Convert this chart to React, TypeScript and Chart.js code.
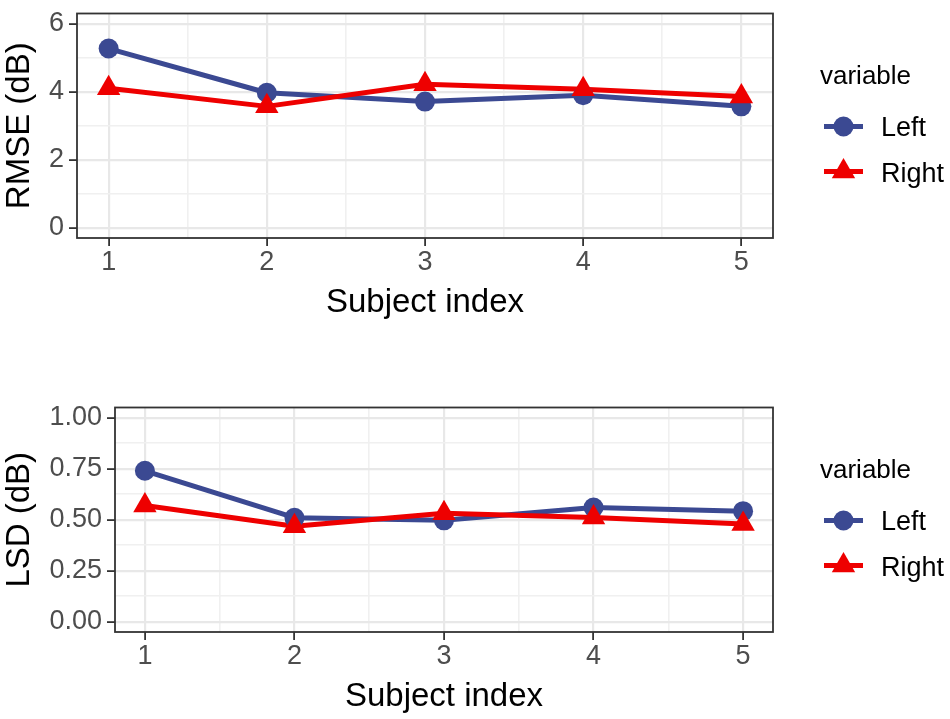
import React, { useEffect, useRef } from 'react';
import { Chart, registerables } from 'chart.js';

Chart.register(...registerables);

// ---------- data ----------
const subjects = [1, 2, 3, 4, 5];
const seriesNames = ['Left', 'Right'];
const rmseLeft = [5.27, 3.97, 3.71, 3.9, 3.57];
const rmseRight = [4.1, 3.57, 4.22, 4.07, 3.86];
const lsdLeft = [0.74, 0.51, 0.497, 0.56, 0.542];
const lsdRight = [0.57, 0.468, 0.532, 0.511, 0.479];
const rmseTicks = [0, 2, 4, 6];
const lsdTicks = [0, 0.25, 0.5, 0.75, 1];
const xTitle = 'Subject index';
const rmseTitle = 'RMSE (dB)';
const lsdTitle = 'LSD (dB)';
const legendTitle = 'variable';

// ---------- style ----------
const BLUE = '#3B4992';
const RED = '#EE0000';
const FONT = "'Liberation Sans', Arial, Helvetica, sans-serif";
const GRID_MAJOR = '#E8E8E8';
const GRID_MINOR = '#F0F0F0';
const DARK = '#333333';
const TICK_TEXT = '#4D4D4D';
const LINE_W = 5;
const CIRCLE_R = 10;
const TRI_R = 13.5;

const midpoints = (arr: number[]) => arr.slice(1).map((v, i) => (v + arr[i]) / 2);
const near = (arr: number[], v: number) => arr.some((m) => Math.abs(m - v) < 1e-9);

function drawTriangle(ctx: CanvasRenderingContext2D, x: number, y: number, r: number) {
  ctx.beginPath();
  for (let k = 0; k < 3; k++) {
    const a = (k * 2 * Math.PI) / 3;
    const px = x + Math.sin(a) * r;
    const py = y - Math.cos(a) * r;
    if (k === 0) ctx.moveTo(px, py);
    else ctx.lineTo(px, py);
  }
  ctx.closePath();
  ctx.fill();
}

const borderPlugin = {
  id: 'panelBorder',
  afterDatasetsDraw(chart: any) {
    const { ctx, chartArea: a } = chart;
    ctx.save();
    ctx.strokeStyle = DARK;
    ctx.lineWidth = 1.8;
    ctx.strokeRect(a.left, a.top, a.right - a.left, a.bottom - a.top);
    ctx.restore();
  },
};

const legendPlugin = {
  id: 'ggLegend',
  afterDraw(chart: any) {
    const { ctx, chartArea: a } = chart;
    const t = a.top;
    ctx.save();
    ctx.textAlign = 'left';
    ctx.textBaseline = 'alphabetic';
    ctx.fillStyle = '#000';
    ctx.font = `26px ${FONT}`;
    ctx.fillText(legendTitle, a.right + 47, t + 70);
    const k0 = a.right + 51;
    const k1 = a.right + 90;
    const cx = (k0 + k1) / 2;
    const rows = [
      { name: seriesNames[0], color: BLUE, y: t + 113, base: t + 122, shape: 'circle' },
      { name: seriesNames[1], color: RED, y: t + 158, base: t + 168, shape: 'triangle' },
    ];
    rows.forEach((r) => {
      ctx.strokeStyle = r.color;
      ctx.lineWidth = LINE_W;
      ctx.beginPath();
      ctx.moveTo(k0, r.y);
      ctx.lineTo(k1, r.y);
      ctx.stroke();
      ctx.fillStyle = r.color;
      if (r.shape === 'circle') {
        ctx.beginPath();
        ctx.arc(cx, r.y, CIRCLE_R, 0, Math.PI * 2);
        ctx.fill();
      } else {
        drawTriangle(ctx, cx, r.y, TRI_R);
      }
      ctx.fillStyle = '#000';
      ctx.font = `27px ${FONT}`;
      ctx.fillText(r.name, a.right + 108, r.base);
    });
    ctx.restore();
  },
};

type PanelProps = {
  top: number;
  left: number[];
  right: number[];
  yTicks: number[];
  yMin: number;
  yMax: number;
  decimals: number;
  axisWidth: number;
  yTitle: string;
};

function Panel({ top, left, right, yTicks, yMin, yMax, decimals, axisWidth, yTitle }: PanelProps) {
  const ref = useRef<HTMLCanvasElement>(null);
  useEffect(() => {
    if (!ref.current) return;
    const xMinor = midpoints(subjects);
    const xAll = [...subjects, ...xMinor].sort((a, b) => a - b);
    const yMinor = midpoints(yTicks);
    const yAll = [...yTicks, ...yMinor].sort((a, b) => a - b);
    const pts = (vals: number[]) => subjects.map((s, i) => ({ x: s, y: vals[i] }));

    const gridFor = (major: number[]) => ({
      color: (c: any) => (c.tick && near(major, c.tick.value) ? GRID_MAJOR : GRID_MINOR),
      lineWidth: (c: any) => (c.tick && near(major, c.tick.value) ? 2.2 : 1.6),
      drawTicks: true,
      tickLength: 8,
      tickColor: (c: any) => (c.tick && near(major, c.tick.value) ? DARK : 'rgba(0,0,0,0)'),
      tickWidth: (c: any) => (c.tick && near(major, c.tick.value) ? 1.8 : 0),
    });

    const chart = new Chart(ref.current, {
      type: 'line',
      data: {
        datasets: [
          {
            label: seriesNames[1] + ' points',
            data: pts(right),
            showLine: false,
            pointStyle: 'triangle',
            pointRadius: TRI_R,
            pointBorderWidth: 0,
            pointBackgroundColor: RED,
            pointBorderColor: RED,
            order: 0,
          },
          {
            label: seriesNames[0] + ' points',
            data: pts(left),
            showLine: false,
            pointStyle: 'circle',
            pointRadius: CIRCLE_R,
            pointBorderWidth: 0,
            pointBackgroundColor: BLUE,
            pointBorderColor: BLUE,
            order: 1,
          },
          {
            label: seriesNames[1],
            data: pts(right),
            borderColor: RED,
            borderWidth: LINE_W,
            borderJoinStyle: 'round',
            pointRadius: 0,
            tension: 0,
            order: 2,
          },
          {
            label: seriesNames[0],
            data: pts(left),
            borderColor: BLUE,
            borderWidth: LINE_W,
            borderJoinStyle: 'round',
            pointRadius: 0,
            tension: 0,
            order: 3,
          },
        ] as any,
      },
      options: {
        animation: false,
        responsive: true,
        maintainAspectRatio: false,
        events: [],
        layout: { padding: { top: 7, right: 177, left: 0, bottom: 0 } },
        plugins: { legend: { display: false }, tooltip: { enabled: false } },
        scales: {
          x: {
            type: 'linear',
            min: 0.8,
            max: 5.2,
            afterBuildTicks: (s: any) => {
              s.ticks = xAll.map((v) => ({ value: v }));
            },
            afterFit: (s: any) => {
              s.height = 87;
              s.paddingLeft = 0;
              s.paddingRight = 0;
            },
            ticks: {
              autoSkip: false,
              maxRotation: 0,
              padding: 0,
              color: TICK_TEXT,
              font: { family: FONT, size: 27, lineHeight: 1.2 },
              callback: (v: any) => (near(subjects, Number(v)) ? String(v) : ''),
            },
            grid: gridFor(subjects) as any,
            border: { display: false },
            title: {
              display: true,
              text: xTitle,
              color: '#000',
              font: { family: FONT, size: 33, lineHeight: 1.2 },
              padding: { top: 0, bottom: 2 },
            },
          },
          y: {
            type: 'linear',
            min: yMin,
            max: yMax,
            afterBuildTicks: (s: any) => {
              s.ticks = yAll.map((v) => ({ value: v }));
            },
            afterFit: (s: any) => {
              s.width = axisWidth;
              s.paddingTop = 0;
              s.paddingBottom = 0;
            },
            ticks: {
              autoSkip: false,
              padding: 5,
              color: TICK_TEXT,
              font: { family: FONT, size: 27, lineHeight: 1.2 },
              callback: (v: any) => (near(yTicks, Number(v)) ? Number(v).toFixed(decimals) : ''),
            },
            grid: gridFor(yTicks) as any,
            border: { display: false },
            title: {
              display: true,
              text: yTitle,
              color: '#000',
              font: { family: FONT, size: 33, lineHeight: 1.2 },
              padding: { top: 0, bottom: 0 },
            },
          },
        },
      } as any,
      plugins: [borderPlugin, legendPlugin],
    });
    return () => chart.destroy();
  }, []);

  return (
    <div style={{ position: 'absolute', left: 0, top, width: 950, height: 325 }}>
      <canvas ref={ref} />
    </div>
  );
}

export default function App() {
  return (
    <div style={{ position: 'absolute', left: 0, top: 0, width: 950, height: 719, background: '#fff' }}>
      <Panel
        top={0}
        left={rmseLeft}
        right={rmseRight}
        yTicks={rmseTicks}
        yMin={-0.3}
        yMax={6.3}
        decimals={0}
        axisWidth={77}
        yTitle={rmseTitle}
      />
      <Panel
        top={394}
        left={lsdLeft}
        right={lsdRight}
        yTicks={lsdTicks}
        yMin={-0.05}
        yMax={1.05}
        decimals={2}
        axisWidth={115}
        yTitle={lsdTitle}
      />
    </div>
  );
}
